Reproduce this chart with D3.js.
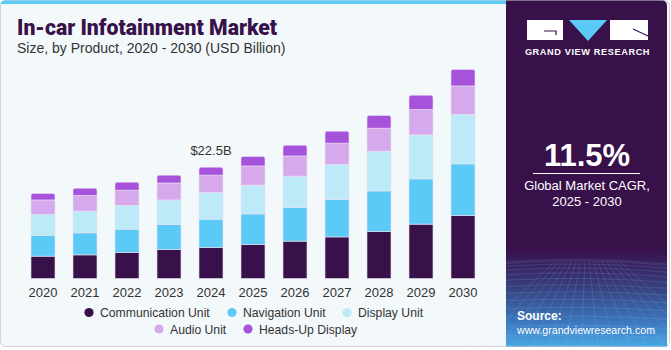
<!DOCTYPE html>
<html><head><meta charset="utf-8">
<script src="https://cdn.jsdelivr.net/npm/d3@7"></script>
<style>
html,body{margin:0;padding:0;background:#fff;}
svg{display:block;font-family:"Liberation Sans",Arial,sans-serif;}
</style></head>
<body><svg id="c" width="671" height="350"></svg>
<script>
const years = ["2020","2021","2022","2023","2024","2025","2026","2027","2028","2029","2030"];
const communication = [4.50,4.78,5.26,5.86,6.27,6.87,7.54,8.41,9.50,10.98,12.73];
const navigation    = [4.19,4.45,4.71,5.05,5.72,6.19,6.81,7.56,8.21,9.16,10.43];
const displayUnit   = [4.25,4.38,4.79,4.97,5.40,5.80,6.33,7.07,8.02,8.89,9.99];
const audio         = [2.95,3.17,3.09,3.44,3.50,3.90,4.10,4.31,4.65,5.13,5.78];
const hud           = [1.29,1.48,1.62,1.56,1.61,1.90,2.16,2.43,2.57,2.89,3.32];
const seriesNames = ["Communication Unit","Navigation Unit","Display Unit","Audio Unit","Heads-Up Display"];
const seriesColors = ["#38114b","#5ccaf6","#bdeaf9","#d5a9ec","#a752da"];
const annotation = {year:"2024", text:"$22.5B"};

const svg = d3.select("#c");
const defs = svg.append("defs");

// card
svg.append("rect").attr("x",0.5).attr("y",0.5).attr("width",669).attr("height",346).attr("rx",5)
  .attr("fill","#f3f8fb").attr("stroke","#cfd3d6");
svg.append("path").attr("d","M0.5,5 Q0.5,0.5 5,0.5 L507,0.5 L507,4 L0.5,4 Z").attr("fill","#5ccaf6");

// right panel
const g1 = defs.append("linearGradient").attr("id","pg").attr("x1",0).attr("y1",0).attr("x2",0).attr("y2",1);
g1.append("stop").attr("offset","0").attr("stop-color","#38114b");
g1.append("stop").attr("offset","0.72").attr("stop-color","#38114b");
g1.append("stop").attr("offset","0.83").attr("stop-color","#37407f");
g1.append("stop").attr("offset","0.93").attr("stop-color","#3c78bf");
g1.append("stop").attr("offset","1").attr("stop-color","#4aa7e4");
svg.append("path").attr("d","M506,0.5 L662,0.5 Q667,0.5 667,6 L667,346.5 L506,346.5 Z").attr("fill","url(#pg)");
// faint grid
const grid = svg.append("g").attr("stroke","#9fc8f0").attr("stroke-opacity",0.22).attr("stroke-width",0.7).attr("fill","none");
for(let i=0;i<14;i++){
  const yy = 262 + Math.pow(i/13,1.6)*84;
  grid.append("path").attr("d",`M506,${yy} Q586,${yy-6+i*0.3} 667,${yy+2}`);
}
for(let i=0;i<16;i++){
  const xx = 506 + i*11;
  grid.append("line").attr("x1",586+(xx-586)*0.4).attr("y1",262).attr("x2",xx+(xx-586)*0.5).attr("y2",346);
}

// logo
svg.append("rect").attr("x",527).attr("y",20).attr("width",36).attr("height",20).attr("fill","#fff");
svg.append("path").attr("d","M544,31 L556,31 L556,35").attr("stroke","#38114b").attr("stroke-width",1.2).attr("fill","none");
svg.append("path").attr("d","M569,20 L607,20 L588,41 Z").attr("fill","#5ccaf6");
svg.append("rect").attr("x",610).attr("y",20).attr("width",38).attr("height",20).attr("fill","#fff");
svg.append("path").attr("d","M633,29 L648,36").attr("stroke","#38114b").attr("stroke-width",1.2);
svg.append("text").attr("x",587.5).attr("y",55).attr("text-anchor","middle").attr("fill","#fff")
  .attr("font-size",9.2).attr("font-weight","bold").attr("letter-spacing",0.6).text("GRAND VIEW RESEARCH");

// CAGR
svg.append("text").attr("x",587).attr("y",166).attr("text-anchor","middle").attr("fill","#fff")
  .attr("font-size",31).attr("font-weight","bold").text("11.5%");
svg.append("line").attr("x1",533).attr("x2",640).attr("y1",173.5).attr("y2",173.5).attr("stroke","#fff").attr("stroke-width",1);
svg.append("text").attr("x",587).attr("y",190).attr("text-anchor","middle").attr("fill","#fff").attr("font-size",13).text("Global Market CAGR,");
svg.append("text").attr("x",587).attr("y",206).attr("text-anchor","middle").attr("fill","#fff").attr("font-size",13).text("2025 - 2030");

// source
svg.append("text").attr("x",517).attr("y",320).attr("fill","#fff").attr("font-size",12).attr("font-weight","bold").text("Source:");
svg.append("text").attr("x",517).attr("y",334).attr("fill","#fff").attr("font-size",11.5)
  .attr("textLength",138).attr("lengthAdjust","spacingAndGlyphs").text("www.grandviewresearch.com");

// titles
svg.append("text").attr("x",17).attr("y",35).attr("fill","#38114b").attr("font-size",21.2).attr("font-weight",900)
  .attr("font-family","Roboto, 'Liberation Sans', Arial, sans-serif").text("In-car Infotainment Market");
svg.append("text").attr("x",17).attr("y",53).attr("fill","#333").attr("font-size",14).text("Size, by Product, 2020 - 2030 (USD Billion)");

// chart
const series = [communication,navigation,displayUnit,audio,hud];
const data = years.map((yr,i)=>{ const o={year:yr}; seriesNames.forEach((n,k)=>o[n]=series[k][i]); return o; });
const stack = d3.stack().keys(seriesNames)(data);
const x = d3.scaleBand().domain(years).range([22,484]).paddingInner(0.4286).paddingOuter(0.2143);
const baseY = 278.5;
const y = d3.scaleLinear().domain([0,22.5]).range([baseY, baseY-111.3]);

const gb = svg.append("g");
stack.forEach((layer,k)=>{
  gb.selectAll(null).data(layer).enter().append("path")
    .attr("fill",seriesColors[k])
    .attr("stroke","#ebe3f2").attr("stroke-width",0.6)
    .attr("d",d=>{
      const x0=x(d.data.year), w=x.bandwidth(), y0=y(d[0]), y1=y(d[1]);
      if(k===seriesNames.length-1){
        const r=2;
        return `M${x0},${y0} L${x0},${y1+r} Q${x0},${y1} ${x0+r},${y1} L${x0+w-r},${y1} Q${x0+w},${y1} ${x0+w},${y1+r} L${x0+w},${y0} Z`;
      }
      return `M${x0},${y0} L${x0},${y1} L${x0+w},${y1} L${x0+w},${y0} Z`;
    });
});

const xAxis = svg.append("g").attr("transform",`translate(0,${baseY})`).call(d3.axisBottom(x).tickSize(0).tickPadding(9));
xAxis.select(".domain").remove();
xAxis.selectAll("text").attr("font-size",13).attr("fill","#333").attr("font-family","'Liberation Sans',Arial,sans-serif");

const ai = years.indexOf(annotation.year);
const tot = series.reduce((s,a)=>s+a[ai],0);
svg.append("text").attr("x",x(annotation.year)+x.bandwidth()/2).attr("y",y(tot)-12)
  .attr("text-anchor","middle").attr("fill","#333").attr("font-size",13).text(annotation.text);

// legend
const legendRows = [[0,1,2],[3,4]];
const legendPos = [[89,232,347],[159,248]];
const legendY = [312.5,329];
legendRows.forEach((row,r)=>{
  row.forEach((k,j)=>{
    const lg = svg.append("g").attr("transform",`translate(${legendPos[r][j]},${legendY[r]})`);
    lg.append("circle").attr("r",4.6).attr("fill",seriesColors[k]);
    lg.append("text").attr("x",11).attr("y",4.5).attr("font-size",12.2).attr("fill","#333").text(seriesNames[k]);
  });
});
</script></body></html>
